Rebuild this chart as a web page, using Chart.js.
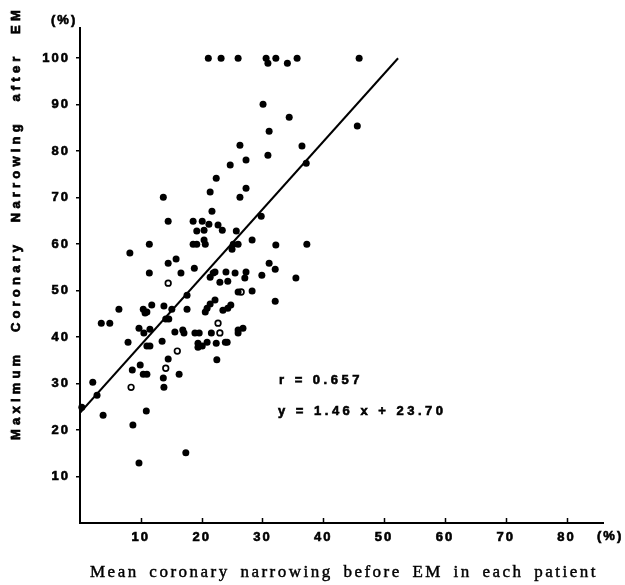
<!DOCTYPE html>
<html>
<head>
<meta charset="utf-8">
<script src="https://cdn.jsdelivr.net/npm/chart.js@4"></script>
<style>
  html, body { margin: 0; background: #fff; }
  canvas { display: block; }
</style>
</head>
<body>
<canvas id="chart" width="625" height="585"></canvas>
<script>
// filled dots (x = mean narrowing before EM, y = max narrowing after EM)
const solidX = [21.1, 23.2, 26.0, 30.6, 30.9, 32.2, 34.1, 35.7, 45.9,
  30.1, 34.4, 31.1, 45.6, 26.3, 36.5, 30.9, 27.3, 24.7, 37.2, 22.4, 27.3, 21.4, 13.7, 26.3, 21.7, 29.8, 14.5, 18.6, 20.1, 21.2, 22.7, 23.4, 19.2, 20.4, 25.7,
  11.4, 18.6, 19.2, 20.4, 20.6, 25.2, 25.0, 26.0, 28.3, 32.2, 37.3, 8.2,
  14.5, 15.8, 11.4, 16.6, 18.8, 31.1, 32.1, 35.5, 21.4, 21.9, 22.2, 24.0, 23.0, 24.3, 25.5, 27.3, 27.1, 29.9,
  26.0, 28.3, 32.1, 17.6, 13.8, 11.8, 10.4, 10.7, 11.0, 6.4, 3.5, 4.9, 15.1, 17.6, 14.1, 14.6, 20.6, 20.9, 21.4, 22.2, 23.5, 24.3, 24.8,
  9.7, 10.5, 11.5, 7.9, 11.0, 11.5, 13.5, 15.6, 16.9, 17.1, 18.9, 19.6, 21.6, 26.0, 26.8, 26.0, 19.4, 20.1, 19.4, 20.9, 22.4, 23.9, 24.2,
  22.5, 14.5, 9.9, 8.6, 10.4, 11.0, 16.3, 13.7, 13.8, 2.1, 2.8, 3.8, 0.3, 10.9, 8.7, 17.4, 9.7];
const solidY = [100, 100, 100, 100, 98.9, 100, 98.9, 100, 100,
  90.1, 87.3, 84.3, 85.4, 81.3, 81.1, 79.1, 78.1, 77.0, 77.4, 74.2, 72.0, 71.2, 70.1, 70.1, 67.1, 66.0, 64.9, 64.9, 64.9, 64.3, 64.1, 63.0, 62.8, 63.0, 62.8,
  60.0, 60.0, 60.0, 60.9, 60.0, 60.0, 58.9, 60.0, 60.9, 59.8, 60.0, 58.1,
  55.9, 56.8, 53.8, 53.8, 54.8, 55.9, 54.6, 52.7, 52.9, 53.8, 54.0, 54.0, 51.8, 52.0, 53.8, 54.0, 52.7, 53.3,
  49.7, 49.9, 47.7, 49.0, 46.7, 46.9, 46.0, 45.2, 45.4, 46.0, 43.0, 43.0, 46.0, 46.0, 43.9, 43.9, 45.4, 46.2, 47.1, 48.0, 45.8, 46.2, 46.9,
  41.9, 40.9, 41.7, 38.9, 38.1, 38.1, 39.1, 41.1, 41.5, 40.9, 40.9, 40.9, 40.9, 41.5, 41.9, 40.9, 38.7, 38.1, 37.8, 38.9, 38.7, 38.9, 38.9,
  35.1, 35.3, 34.0, 32.9, 32.0, 32.0, 32.0, 31.2, 29.2, 30.3, 27.5, 23.2, 24.9, 24.1, 21.1, 15.1, 12.9];

// open circles
const openX = [14.5, 26.5, 22.7, 23.0, 16.0, 14.1, 8.4];
const openY = [51.6, 49.7, 43.0, 40.9, 37.0, 33.3, 29.2];

// regression line ends as drawn
const fitX = [0, 52.3];
const fitY = [23.7, 100];

const xTicks = [10, 20, 30, 40, 50, 60, 70, 80];
const yTicks = [10, 20, 30, 40, 50, 60, 70, 80, 90, 100];

const rText = "r = 0.657";
const eqText = "y = 1.46 x + 23.70";
const xTitle = "Mean coronary narrowing before EM in each patient";
const yTitle = "Maximum Coronary Narrowing after EM";

const ink = "#000";
const sans = "'Liberation Sans', Arial, sans-serif";
const serif = "'Liberation Serif', 'Times New Roman', serif";

function toPoints(xs, ys) {
  return xs.map((v, i) => ({ x: v, y: ys[i] }));
}

// heavier text, like the printed original
function inkText(ctx, s, x, y, weight) {
  ctx.fillText(s, x, y);
  if (weight) {
    ctx.lineWidth = weight;
    ctx.strokeText(s, x, y);
  }
}

// lays words along a line so they fill a given length
function spreadWords(ctx, text, length, weight) {
  const words = text.split(" ");
  const widths = words.map(w => ctx.measureText(w).width);
  const gap = (length - widths.reduce((a, b) => a + b, 0)) / (words.length - 1);
  let pos = 0;
  words.forEach((w, i) => {
    inkText(ctx, w, pos, 0, weight);
    pos += widths[i] + gap;
  });
}

const decor = {
  id: "decor",
  beforeUpdate(chart) { chart.ctx.letterSpacing = "2px"; },
  beforeDraw(chart) { chart.ctx.letterSpacing = "2px"; },
  afterDraw(chart) {
    const { ctx, scales: { x, y } } = chart;
    ctx.save();

    // x ticks point into the plot
    ctx.strokeStyle = ink;
    ctx.lineWidth = 1.5;
    ctx.beginPath();
    xTicks.forEach(v => {
      const px = Math.round(x.getPixelForValue(v)) + 0.5;
      ctx.moveTo(px, y.bottom);
      ctx.lineTo(px, y.bottom - 5);
    });
    ctx.stroke();

    ctx.fillStyle = ink;
    ctx.textAlign = "left";
    ctx.textBaseline = "middle";
    ctx.font = "bold 13px " + sans;
    ctx.letterSpacing = "2px";
    inkText(ctx, "(%)", 597, 536, 0.6);
    inkText(ctx, "(%)", 51, 20, 0.6);

    ctx.letterSpacing = "3.5px";
    inkText(ctx, rText, 279, 380, 0.6);
    inkText(ctx, eqText, 278, 411, 0.6);

    // y title, reading upward
    ctx.save();
    ctx.translate(16, 440);
    ctx.rotate(-Math.PI / 2);
    ctx.font = "bold 13px " + sans;
    ctx.letterSpacing = "4.2px";
    spreadWords(ctx, yTitle, 434, 0.7);
    ctx.restore();

    // x title
    ctx.save();
    ctx.translate(90, 577);
    ctx.textBaseline = "alphabetic";
    ctx.font = "17px " + serif;
    ctx.letterSpacing = "2.5px";
    spreadWords(ctx, xTitle, 508, 0.45);
    ctx.restore();

    ctx.restore();
  }
};

const tickFont = { family: sans, size: 13, weight: "bold" };

new Chart(document.getElementById("chart"), {
  type: "scatter",
  data: {
    datasets: [
      {
        type: "line",
        data: toPoints(fitX, fitY),
        borderColor: ink,
        borderWidth: 2,
        pointRadius: 0,
        fill: false
      },
      {
        data: toPoints(solidX, solidY),
        pointRadius: 3.5,
        backgroundColor: ink,
        borderWidth: 0,
        clip: false
      },
      {
        data: toPoints(openX, openY),
        pointRadius: 2.8,
        backgroundColor: "#fff",
        borderColor: ink,
        borderWidth: 1.7,
        clip: false
      }
    ]
  },
  options: {
    responsive: false,
    animation: false,
    devicePixelRatio: 1,
    layout: { padding: { top: 28, right: 22, left: 0, bottom: 0 } },
    plugins: { legend: { display: false }, tooltip: { enabled: false } },
    scales: {
      x: {
        type: "linear",
        min: 0,
        max: 86,
        afterFit(s) { s.height = 62; },
        afterBuildTicks(s) { s.ticks = xTicks.map(v => ({ value: v })); },
        grid: { display: false, drawTicks: false },
        border: { color: ink, width: 2 },
        ticks: { color: ink, font: tickFont, padding: 7, maxRotation: 0, autoSkip: false,
                 textStrokeColor: ink, textStrokeWidth: 0.6 }
      },
      y: {
        type: "linear",
        min: 0,
        max: 106.5,
        afterFit(s) { s.width = 80; },
        afterBuildTicks(s) { s.ticks = yTicks.map(v => ({ value: v })); },
        grid: { drawOnChartArea: false, tickLength: 4, color: ink, lineWidth: 1.5 },
        border: { color: ink, width: 2 },
        ticks: { color: ink, font: tickFont, padding: 6, autoSkip: false,
                 textStrokeColor: ink, textStrokeWidth: 0.6 }
      }
    }
  },
  plugins: [decor]
});
</script>
</body>
</html>
